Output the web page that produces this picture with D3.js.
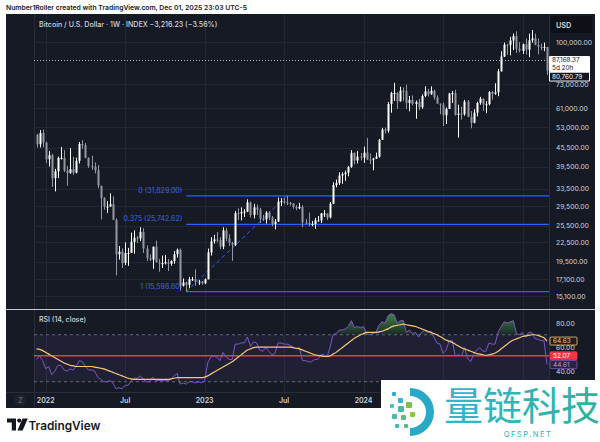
<!DOCTYPE html>
<html><head><meta charset="utf-8">
<script src="https://cdn.jsdelivr.net/npm/d3@7"></script>
<style>html,body{margin:0;padding:0;background:#fff;}svg{display:block;}</style>
</head><body>
<svg id="chart" width="600" height="442"></svg>
<script>
// ---------- DATA ----------
const firstWeek = "2021-12-13"; // Monday of first weekly bar
const opens  = [50100,46700,50800,47300,41800,43100,36300,38200,42200,42200,38400,37700,38800,37800,41300,46800,46400,42200,39700,39500,38500,34300,31300,29400,29400,29900,26600,20600,21000,19300,20800,20800,22600,23300,23200,24300,21500,20000,19800,21800,19400,19300,19300,19400,19200,19600,20600,21300,16300,16700,16400,17100,17100,16800,16800,16600,17100,20900,22700,23000,22900,21800,24600,23200,22400,22100,28000,27900,28200,28300,30300,27600,29200,28700,26800,26700,28100,27100,25800,26300,30500,30600,30300,30200,30100,29300,29000,29300,26100,26000,25800,25800,26500,26500,27900,27900,27100,30000,34500,35000,37000,37400,37800,39500,43800,41400,42600,42300,43900,41700,41600,42000,42600,48300,52100,51700,63100,68400,68400,64300,69600,69400,63500,64900,63100,64000,61500,66900,69300,67800,69600,66200,63200,62700,58000,60800,68200,68300,58100,58700,58400,64200,57300,54800,59100,63500,65600,62800,62900,69000,68000,68700,80400,89800,98000,97700,101100,104500,95100,93700,98300,94500,101300,102700,97700,96500,96100,96300];
const highs  = [50500,51900,52100,47600,44400,43500,38900,42600,45800,44700,39800,45400,42600,42300,47500,48200,47200,42400,42900,40800,40000,34300,31500,30600,32400,31700,26900,21900,21500,22500,21600,24200,24600,23600,25200,25000,22000,20600,21800,22800,19900,20400,20500,19900,19700,21100,21500,21500,17200,16800,17400,17400,18400,17000,16900,17200,21500,23400,23800,24300,23400,25200,25100,23900,22600,28400,29000,29200,28800,31000,30500,30000,29800,29100,27600,28400,28400,27400,26800,31400,31300,31400,31829,30400,30100,29700,30200,29700,26800,28100,26400,27000,27400,28000,28600,27900,30400,35200,35900,37900,37900,38400,39700,44700,44000,44400,43800,45900,49000,43600,42200,43900,48600,52800,52900,64000,69000,73800,68900,71700,71300,72800,66900,67200,64700,65500,67700,71900,70600,71900,70100,67200,63300,63800,61400,68400,69400,70000,62700,61800,65000,64900,59800,60600,64100,66500,65600,64400,69400,69500,73600,81800,93400,99600,98700,103900,106500,108300,99900,98900,102700,106400,109400,106400,102500,98800,99500,96500];
const lows   = [45600,45600,45700,40600,39600,34000,32900,36300,41700,38000,34300,37500,37200,37600,40500,45200,42100,39200,38600,37600,33700,26700,28700,28000,29300,26600,17600,19800,18600,19000,18900,20800,20700,22400,22700,20800,19600,19600,18500,19400,18100,18600,19100,18200,18900,19200,20100,15700,16200,15598.6,16000,16900,16300,16400,16400,16500,17100,20400,22300,22500,21400,21400,22700,21900,19600,21900,26600,26500,27200,28200,27100,26900,27600,26000,26400,25900,26600,25400,24800,26200,29500,29900,29700,29600,28900,28600,28800,25200,25800,25400,25400,24900,26300,26000,27200,26600,26900,29900,33900,34500,34800,35600,36800,39200,40200,40500,41400,40700,41500,40300,38500,41900,42300,48200,50600,50900,59100,64500,60800,64200,64500,60700,59700,62400,56500,60200,60800,66300,66600,67500,65100,63400,58400,53500,54300,60700,63500,57800,49100,56100,57800,57200,52600,54600,57500,62700,59900,58900,62400,65100,67500,66800,80200,89400,90800,90500,94200,92200,92500,91500,91200,89300,99500,97800,91200,94100,93400,78200];
const closes = [46700,50800,47300,41800,43100,36300,38200,42200,42200,38400,37700,38800,37800,41300,46800,46400,42200,39700,39500,38500,34300,31300,29400,29400,29900,26600,20600,21000,19300,20800,20800,22600,23300,23200,24300,21500,20000,19800,21800,19400,19300,19300,19400,19200,19600,20600,21300,16300,16700,16400,17100,17100,16800,16800,16600,17100,20900,22700,23000,22900,21800,24600,23200,22400,22100,28000,27900,28200,28300,30300,27600,29200,28700,26800,26700,28100,27100,25800,26300,30500,30600,30300,30200,30100,29300,29000,29300,26100,26000,25800,25800,26500,26500,27900,27900,27100,30000,34500,35000,37000,37400,37800,39500,43800,41400,42600,42300,43900,41700,41600,42000,42600,48300,52100,51700,63100,68400,68400,64300,69600,69400,63500,64900,63100,64000,61500,66900,69300,67800,69600,66200,63200,62700,58000,60800,68200,68300,58100,58700,58400,64200,57300,54800,59100,63500,65600,62800,62900,69000,68000,68700,80400,89800,98000,97700,101100,104500,95100,93700,98300,94500,101300,102700,97700,96500,96100,96300,80760.79];
const rsiValues = [49,52,48,41,43,36,39,44,44,40,39,41,40,43,48,47,43,40,40,39,34,32,30,30,31,29,24,25,24,27,27,31,33,33,35,32,30,30,34,31,31,31,31,31,32,35,37,28,29,28,30,30,29,30,29,31,46,51,52,51,48,55,51,49,49,62,62,63,63,68,60,64,63,57,56,59,56,53,54,63,63,62,62,61,59,58,59,48,48,47,47,49,49,53,53,51,59,70,71,74,74,75,77,82,76,77,76,77,71,70,71,72,78,81,80,86,88,87,80,82,82,72,74,71,72,68,72,74,72,73,68,63,62,54,57,65,65,52,53,52,59,50,47,53,57,59,56,56,63,62,62,72,77,81,80,81,82,71,70,72,68,72,72,67,66,65,65,44.61];
const rsiMA = [58,57.5,56.5,55,53.5,52,50.5,49,47.5,46,45,44,43.5,43,43,43,43,43,43,42.5,42,41.5,41,40,39,38,37,36,35,34,33,32.5,32,32,32,32,32,32,32,32,32,32,32,32,32.5,33,33.5,33.5,33.5,33.5,33.5,33.5,33.5,33.5,33.5,34,35,36.5,38,39.5,41,42.5,44,45.5,47,49,51,53,55,57,58,59,59.5,59.5,59.5,59.5,59.5,59.5,59.5,59.5,59.5,59.5,59.5,59.5,59,58.5,58,57,56,55,54,53,52.5,52,51.5,51.5,52,53.5,55,57,59,61,63,65,67,68.5,70,71,72,72,72,72,72.5,73,74,75,76.5,77.5,78,78.5,79,78.5,78,77.5,77,76,75,74,73,72,71,70,68.5,67,65.5,64.5,63.5,62,60.5,59,58,57,56,55,54,53.5,53,52.5,53,53.5,54.5,56,58,60,62,64,65.5,66.5,67.5,68.5,69,69.5,70,70,69.5,68.5,67.5,64.63];
const priceTicks = [100000,73000,61000,53000,45500,39500,33500,29500,25500,22500,19500,17100,15100];
const rsiTicks = [80,60,40];
const timeTickDates = ["2022-01-03","2022-07-04","2023-01-02","2023-07-03","2024-01-01","2024-07-01","2024-12-30"];
const timeTickLabels = ["2022","Jul","2023","Jul","2024","Jul","2025"];
const fibRatios = ["0","0.375","1"];
const fibPrices = [31829.00,25742.62,15598.60];
const fibStart = "2022-11-21", fibEnd = "2023-07-10";
const lastPrice = 87168.37, replayPrice = 80760.79;
const rsiUpper = 70, rsiLower = 30, rsiMarker = 52.07;

// ---------- SETUP ----------
const parse = d3.utcParse("%Y-%m-%d");
const dates = d3.utcMonday.range(parse(firstWeek), d3.utcDay.offset(parse(firstWeek), 7*closes.length));
const bars = dates.map((d,i)=>({date:d,o:opens[i],h:highs[i],l:lows[i],c:closes[i],rsi:rsiValues[i],ma:rsiMA[i]}));

const svg = d3.select("#chart");
const FONT = "Inter, 'Noto Sans', sans-serif";
const BG = "#161a25", GRID = "#232734", TXT = "#d1d4dc";
const L = 34, R = 549, TOP = 14, SEP = 309, RB = 392;
const WM_X = 381, WM_Y = 380; // watermark box

const x = d3.scaleUtc().domain([dates[0], dates[dates.length-1]]).range([36.5, 547]);
const y = d3.scaleLog().domain([100000, 15100]).range([42, 296]);
const ry = d3.scaleLinear().domain([80, 40]).range([323, 370]);

// header
svg.append("text").attr("x",6).attr("y",10).attr("font-family",FONT).attr("font-size",6.8).attr("font-weight",600)
  .attr("fill","#131722").text("Number1Roller created with TradingView.com, Dec 01, 2025 23:03 UTC-5");

// dark panel
svg.append("rect").attr("x",6).attr("y",14).attr("width",589).attr("height",394).attr("fill",BG);

const defs = svg.append("defs");
defs.append("clipPath").attr("id","mainClip").append("rect").attr("x",L).attr("y",TOP).attr("width",R-L).attr("height",SEP-TOP);
defs.append("clipPath").attr("id","rsiClip").append("rect").attr("x",L).attr("y",SEP+1).attr("width",R-L).attr("height",RB-SEP-1);

// vertical grid lines
const tickDates = timeTickDates.map(parse);
svg.append("g").selectAll("line").data(tickDates).join("line")
  .attr("x1",d=>Math.round(x(d))+0.5).attr("x2",d=>Math.round(x(d))+0.5).attr("y1",TOP).attr("y2",RB)
  .attr("stroke",GRID).attr("stroke-width",1);
// horizontal grid lines (main)
svg.append("g").selectAll("line").data(priceTicks).join("line")
  .attr("x1",L).attr("x2",R).attr("y1",d=>Math.round(y(d))+0.5).attr("y2",d=>Math.round(y(d))+0.5)
  .attr("stroke",GRID).attr("stroke-width",1);

// borders
svg.append("line").attr("x1",L+0.5).attr("x2",L+0.5).attr("y1",TOP).attr("y2",RB+15).attr("stroke","#2a2e39");
svg.append("line").attr("x1",R+0.5).attr("x2",R+0.5).attr("y1",TOP).attr("y2",RB+15).attr("stroke","#2a2e39");

const main = svg.append("g").attr("clip-path","url(#mainClip)");

// fib retracement
const fx1 = x(parse(fibStart)), fx2 = x(parse(fibEnd));
main.append("g").selectAll("line").data(fibPrices).join("line")
  .attr("x1",fx1).attr("x2",R).attr("y1",d=>y(d)).attr("y2",d=>y(d))
  .attr("stroke","#2962ff").attr("stroke-width",1.3);
main.append("line").attr("x1",fx1).attr("y1",y(fibPrices[2])).attr("x2",fx2).attr("y2",y(fibPrices[0]))
  .attr("stroke","#2962ff").attr("stroke-width",1).attr("stroke-dasharray","4,3");
main.append("g").selectAll("text").data(fibPrices).join("text")
  .attr("x",fx1-4).attr("y",d=>y(d)-3).attr("text-anchor","end")
  .attr("font-family",FONT).attr("font-size",7).attr("fill","#3d67e0")
  .text((d,i)=>`${fibRatios[i]} (${d3.format(",.2f")(d)})`);

// candles
const cg = main.append("g");
cg.selectAll("line").data(bars).join("line")
  .attr("x1",d=>Math.round(x(d.date))+0.5).attr("x2",d=>Math.round(x(d.date))+0.5)
  .attr("y1",d=>y(d.h)).attr("y2",d=>y(d.l))
  .attr("stroke",d=>d.c>=d.o?"#ffffff":"#9598a1").attr("stroke-width",1);
cg.selectAll("rect").data(bars).join("rect")
  .attr("x",d=>Math.round(x(d.date))-0.5).attr("width",2)
  .attr("y",d=>y(Math.max(d.o,d.c))).attr("height",d=>Math.max(1,Math.abs(y(d.o)-y(d.c))))
  .attr("fill",d=>d.c>=d.o?"#ffffff":"#9598a1");

// current price dotted line
svg.append("line").attr("x1",L).attr("x2",R).attr("y1",Math.round(y(lastPrice))+0.5).attr("y2",Math.round(y(lastPrice))+0.5)
  .attr("stroke","#b2b5be").attr("stroke-width",1).attr("stroke-dasharray","1,2");

// title
svg.append("text").attr("x",39).attr("y",26.5).attr("font-family",FONT).attr("font-size",7.1).attr("font-weight",500)
  .attr("fill",TXT).text("Bitcoin / U.S. Dollar · 1W · INDEX  −3,216.23 (−3.56%)");

// price axis
svg.append("rect").attr("x",551).attr("y",16).attr("width",41).attr("height",17).attr("fill","#0e1017");
svg.append("text").attr("x",556).attr("y",27.5).attr("font-family",FONT).attr("font-size",7.3).attr("font-weight",600).attr("fill",TXT).text("USD");
svg.append("g").selectAll("text").data(priceTicks).join("text")
  .attr("x",556).attr("y",d=>y(d)+2.5).attr("font-family",FONT).attr("font-size",6.8).attr("fill",TXT)
  .text(d=>d3.format(",.2f")(d));
// last price box (covers part of the 73,000 label, as in the reference)
const ly = y(lastPrice);
svg.append("rect").attr("x",549).attr("y",ly-4.5).attr("width",41).attr("height",25.5).attr("fill","#ffffff").attr("rx",1);
svg.append("text").attr("x",552).attr("y",ly+1.8).attr("font-family",FONT).attr("font-size",6.4).attr("fill","#131722").text(d3.format(",.2f")(lastPrice));
svg.append("text").attr("x",552).attr("y",ly+9.6).attr("font-family",FONT).attr("font-size",6.4).attr("fill","#131722").text("5d 20h");
svg.append("rect").attr("x",550).attr("y",ly+12.3).attr("width",39).attr("height",7.8).attr("fill","#131722");
svg.append("text").attr("x",552).attr("y",ly+18.6).attr("font-family",FONT).attr("font-size",6.4).attr("fill","#ffffff").text(d3.format(",.2f")(replayPrice));

// ---------- RSI PANE ----------
svg.append("line").attr("x1",6).attr("x2",595).attr("y1",SEP+0.5).attr("y2",SEP+0.5).attr("stroke","#c8cad0").attr("stroke-width",1);
const rsiG = svg.append("g").attr("clip-path","url(#rsiClip)");
rsiG.append("rect").attr("x",L).attr("width",R-L).attr("y",ry(rsiUpper)).attr("height",ry(rsiLower)-ry(rsiUpper)).attr("fill","rgba(126,87,194,0.10)");
[rsiUpper, rsiLower].forEach(v=>{
  rsiG.append("line").attr("x1",L).attr("x2",R).attr("y1",ry(v)).attr("y2",ry(v)).attr("stroke","#787b86").attr("stroke-dasharray","3,3").attr("stroke-width",0.8);
});
// overbought fill
const grad = defs.append("linearGradient").attr("id","obGrad").attr("x1",0).attr("x2",0).attr("gradientUnits","userSpaceOnUse")
  .attr("y1",ry(90)).attr("y2",ry(70));
grad.append("stop").attr("offset",0).attr("stop-color","#4caf50").attr("stop-opacity",0.8);
grad.append("stop").attr("offset",1).attr("stop-color","#4caf50").attr("stop-opacity",0.1);
defs.append("clipPath").attr("id","obClip").append("rect").attr("x",L).attr("y",0).attr("width",R-L).attr("height",ry(rsiUpper));
rsiG.append("path").datum(bars).attr("clip-path","url(#obClip)")
  .attr("d",d3.area().x(d=>x(d.date)).y0(ry(rsiUpper)).y1(d=>ry(Math.max(d.rsi,rsiUpper))))
  .attr("fill","url(#obGrad)");
// marker line
rsiG.append("line").attr("x1",L).attr("x2",R).attr("y1",ry(rsiMarker)).attr("y2",ry(rsiMarker)).attr("stroke","#f23645").attr("stroke-width",1.5);
rsiG.append("path").datum(bars).attr("d",d3.line().x(d=>x(d.date)).y(d=>ry(d.rsi)))
  .attr("fill","none").attr("stroke","#7e57c2").attr("stroke-width",1);
rsiG.append("path").datum(bars).attr("d",d3.line().curve(d3.curveMonotoneX).x(d=>x(d.date)).y(d=>ry(d.ma)))
  .attr("fill","none").attr("stroke","#f7c873").attr("stroke-width",1.2);

svg.append("text").attr("x",39).attr("y",321.5).attr("font-family",FONT).attr("font-size",7).attr("font-weight",500).attr("fill",TXT).text("RSI (14, close)");
svg.append("g").selectAll("text").data(rsiTicks).join("text")
  .attr("x",556).attr("y",d=>ry(d)+(d===80?2.5:3.5)).attr("font-family",FONT).attr("font-size",6.8).attr("fill",TXT).text(d=>d.toFixed(2));
// value labels
const lastBar = bars[bars.length-1];
function tag(v, fill, stroke, color){
  const yy = ry(v);
  svg.append("rect").attr("x",550).attr("y",yy-4).attr("width",27).attr("height",8).attr("fill",fill).attr("stroke",stroke).attr("stroke-width",0.8).attr("rx",1);
  svg.append("text").attr("x",553).attr("y",yy+2.3).attr("font-family",FONT).attr("font-size",6.5).attr("fill",color).text(v.toFixed(2));
}
tag(lastBar.ma, "#1e1e22", "#f7c873", "#f7c873");
tag(rsiMarker, "#f23645", "#f23645", "#ffffff");
tag(lastBar.rsi, "#2a2340", "#7e57c2", "#b39ddb");

// ---------- TIME AXIS ----------
svg.append("line").attr("x1",6).attr("x2",595).attr("y1",RB+0.5).attr("y2",RB+0.5).attr("stroke","#2a2e39");
const visibleTicks = tickDates.map((d,i)=>({d, label:timeTickLabels[i]})).filter(t=>x(t.d) < WM_X - 12);
svg.append("g").selectAll("text").data(visibleTicks).join("text")
  .attr("x",t=>x(t.d)).attr("y",402.5).attr("text-anchor","middle").attr("font-family",FONT).attr("font-size",7).attr("font-weight",600)
  .attr("fill",TXT).text(t=>t.label);
svg.append("rect").attr("x",15).attr("y",395).attr("width",11).attr("height",10).attr("rx",2).attr("fill","#1e222d");
svg.append("text").attr("x",20.5).attr("y",402.5).attr("text-anchor","middle").attr("font-family",FONT).attr("font-size",7).attr("fill","#787b86").text("Z");

// ---------- FOOTER ----------
const logo = svg.append("g").attr("fill","#131722");
logo.append("path").attr("d","M7,418.5 h9 v12 h-4.2 v-8 h-4.8 z");
logo.append("circle").attr("cx",19.2).attr("cy",420.6).attr("r",2.1);
logo.append("path").attr("d","M22.6,418.5 h5.2 l-5.2,12 h-5.2 z");
svg.append("text").attr("x",28.5).attr("y",429.5).attr("font-family",FONT).attr("font-size",11.8).attr("font-weight",600)
  .attr("fill","#131722").text("TradingView");

// watermark
svg.append("rect").attr("x",WM_X).attr("y",WM_Y).attr("width",600-WM_X).attr("height",442-WM_Y).attr("fill","#ffffff");
const wg = defs.append("linearGradient").attr("id","wmGrad").attr("x1",0).attr("x2",1).attr("y1",0).attr("y2",0);
wg.append("stop").attr("offset",0).attr("stop-color","#33b4d0");
wg.append("stop").attr("offset",1).attr("stop-color","#2fb39a");
svg.append("text").attr("x",444).attr("y",420).attr("font-family","'Noto Sans CJK SC'").attr("font-size",39)
  .attr("fill","url(#wmGrad)").text("量链科技");
svg.append("text").attr("x",528).attr("y",437).attr("text-anchor","middle").attr("font-family",FONT).attr("font-size",7.5)
  .attr("letter-spacing",1.5).attr("fill","#2fb3b8").text("QFSP.NET");
const wl = svg.append("g");
wl.append("path").attr("d","M410,388 A24,24 0 0 1 410,436 L410,428 A16,16 0 0 0 410,396 Z").attr("fill","#2aa8c8");
[[392,392,4,"#33a8d6"],[398,398,5,"#35b5d5"],[390,404,4,"#4cc0c0"],[398,406,6,"#3fbcb0"],[406,402,6,"#7ac143"],[392,414,5,"#4fb8b0"],[401,415,5,"#5cbf7a"],[410,412,5,"#8dc63f"],[395,424,4,"#46b5c0"],[404,424,4,"#5ab98a"]]
  .forEach(s=>wl.append("rect").attr("x",s[0]).attr("y",s[1]).attr("width",s[2]).attr("height",s[2]).attr("rx",1).attr("fill",s[3]));
</script>
</body></html>
